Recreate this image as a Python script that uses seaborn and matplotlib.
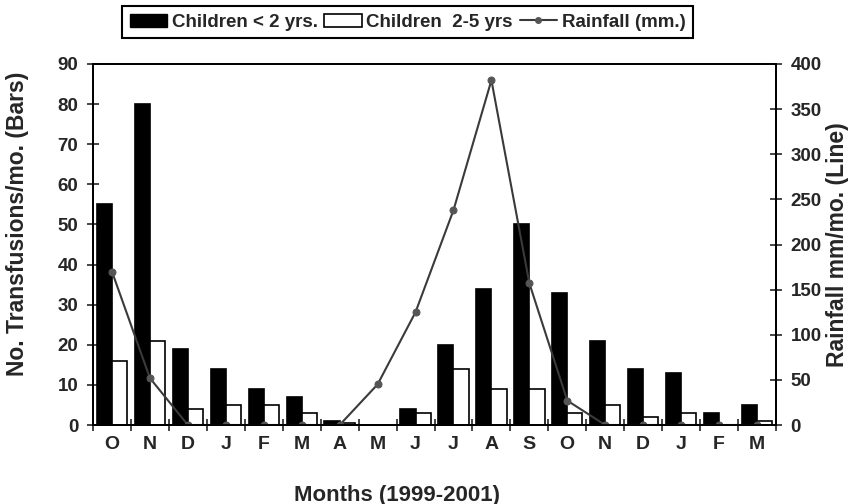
import matplotlib
matplotlib.use('Agg')
import matplotlib.pyplot as plt
import seaborn as sns
import pandas as pd
import numpy as np
from matplotlib.patches import Patch
from matplotlib.lines import Line2D

# data
months = ['O', 'N', 'D', 'J', 'F', 'M', 'A', 'M', 'J',
          'J', 'A', 'S', 'O', 'N', 'D', 'J', 'F', 'M']
under2 = [55, 80, 19, 14, 9, 7, 1, 0, 4, 20, 34, 50, 33, 21, 14, 13, 3, 5]
age2to5 = [16, 21, 4, 5, 5, 3, 0.5, 0, 3, 14, 9, 9, 3, 5, 2, 3, 0, 1]
rainfall = [170, 52, 0, 0, 0, 0, 0, 45, 125, 238, 382, 157, 27, 0, 0, 0, 0, 0]

groups = ['Children < 2 yrs.', 'Children  2-5 yrs']

pos = np.arange(len(months))
bars = pd.DataFrame({
    'pos': np.concatenate([pos, pos]),
    'count': under2 + age2to5,
    'group': [groups[0]] * len(pos) + [groups[1]] * len(pos),
})

sns.set_style('ticks')
plt.rcParams['font.family'] = ['Liberation Sans', 'DejaVu Sans']
plt.rcParams['font.weight'] = 'bold'

fig = plt.figure(figsize=(8.52, 5.04), dpi=100)
ax = fig.add_axes([93 / 852, 1 - 425 / 504, 683 / 852, 361 / 504])

sns.barplot(data=bars, x='pos', y='count', hue='group', hue_order=groups,
            palette={groups[0]: 'black', groups[1]: 'white'}, saturation=1,
            edgecolor='black', linewidth=1.2, width=0.8, legend=False, ax=ax)

ax2 = ax.twinx()
sns.lineplot(x=pos, y=rainfall, ax=ax2, color='#3a3a3a', linewidth=1.5,
             marker='o', markersize=5, markerfacecolor='#555555',
             markeredgecolor='#555555')

ax.set_xlim(-0.5, len(months) - 0.5)
ax.set_ylim(0, 90)
ax.set_yticks(range(0, 91, 10))
ax2.set_ylim(0, 400)
ax2.set_yticks(range(0, 401, 50))

ax.set_xticks(pos)
ax.set_xticklabels(months)
ax.set_xticks(np.arange(-0.5, len(months), 1), minor=True)
ax.tick_params(axis='x', which='major', length=0, pad=8, labelsize=14)
ax.tick_params(axis='x', which='minor', length=9, width=1.2, direction='inout')
ax.tick_params(axis='y', length=9, width=1.2, direction='inout', labelsize=13.5, pad=6)
ax2.tick_params(axis='y', length=9, width=1.2, direction='inout', labelsize=13.5, pad=6)

for a in (ax, ax2):
    for s in a.spines.values():
        s.set_visible(True)
        s.set_color('black')
        s.set_linewidth(1.3)

ax.set_xlabel('Months (1999-2001)', fontsize=16, fontweight='bold')
ax.xaxis.set_label_coords(0.445, -0.165)
ax.set_ylabel('No. Transfusions/mo. (Bars)', fontsize=16.5, fontweight='bold')
ax.yaxis.set_label_coords(-0.094, 0.557)
ax2.set_ylabel('Rainfall mm/mo. (Line)', fontsize=16.5, fontweight='bold')
ax2.yaxis.set_label_coords(1.073, 0.5)

handles = [
    Patch(facecolor='black', edgecolor='black'),
    Patch(facecolor='white', edgecolor='black', linewidth=1.2),
    Line2D([], [], color='#3a3a3a', linewidth=1.5, marker='o', markersize=4,
           markerfacecolor='#555555', markeredgecolor='#555555'),
]
leg = fig.legend(handles, groups + ['Rainfall (mm.)'], loc='upper left',
                 bbox_to_anchor=(122 / 852, 1 - 6 / 504), ncol=3, frameon=True,
                 fancybox=False, edgecolor='black', framealpha=1,
                 columnspacing=0.35, handletextpad=0.25, handlelength=2.0,
                 borderaxespad=0, borderpad=0.4,
                 prop={'weight': 'bold', 'size': 13.5})
leg.get_frame().set_linewidth(1.5)

plt.savefig('out.png', dpi=100)
plt.close(fig)
